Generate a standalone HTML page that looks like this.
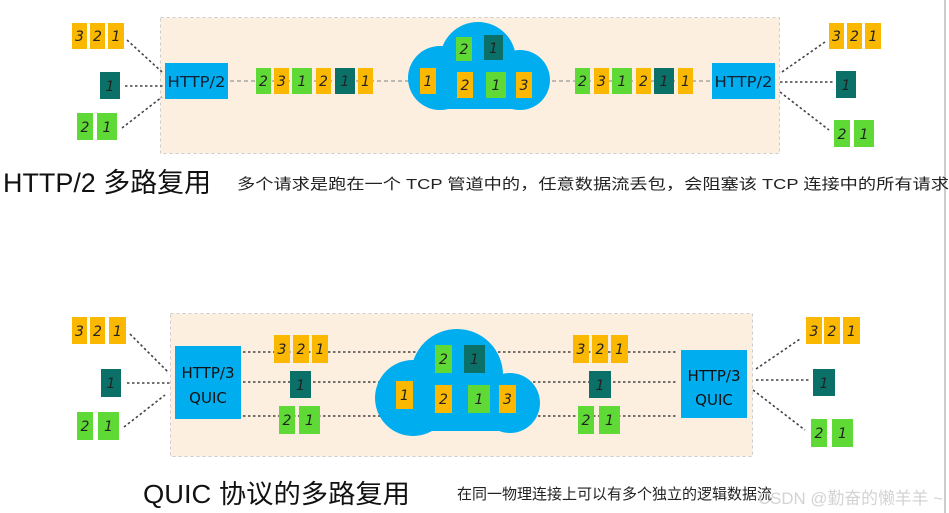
<!DOCTYPE html>
<html><head><meta charset="utf-8"><style>
html,body{margin:0;padding:0;background:#fff;width:949px;height:513px;overflow:hidden}
svg{display:block}
.n{font-family:"DejaVu Sans","Liberation Sans",sans-serif;font-size:14px;fill:#222;text-anchor:middle;font-style:italic}
</style></head><body>
<svg width="949" height="513" viewBox="0 0 949 513" xmlns="http://www.w3.org/2000/svg">
<line x1="945" y1="0" x2="945" y2="513" stroke="#bbb" stroke-width="1.5"/>
<!-- TOP -->
<rect x="160.5" y="17.5" width="619" height="136" fill="#FDEFDF" stroke="#ccc" stroke-dasharray="3,3"/>
<g stroke="#444" stroke-width="1.6" stroke-dasharray="2.5,2.5" fill="none">
<line x1="127" y1="40" x2="162" y2="72"/><line x1="125" y1="86" x2="165" y2="86"/><line x1="122" y1="128" x2="162" y2="97"/>
<line x1="782" y1="72" x2="825" y2="42"/><line x1="780" y1="82" x2="833" y2="82"/><line x1="780" y1="92" x2="829" y2="130"/>
</g>
<g stroke="#999" stroke-width="1.3" stroke-dasharray="4,3">
<line x1="230" y1="81" x2="712" y2="81"/>
</g>
<g fill="#00ADEF">
<circle cx="440" cy="78" r="32"/><circle cx="478" cy="60" r="38"/><circle cx="520" cy="80" r="30"/>
<rect x="435" y="70" width="90" height="39" rx="6"/>
</g>
<rect x="165" y="63" width="63" height="36" fill="#00ADEF"/>
<text x="196.5" y="87" font-family="DejaVu Sans,sans-serif" font-size="15" fill="#123" text-anchor="middle" textLength="58" lengthAdjust="spacingAndGlyphs">HTTP/2</text>
<rect x="712" y="63" width="63" height="36" fill="#00ADEF"/>
<text x="743.5" y="87" font-family="DejaVu Sans,sans-serif" font-size="15" fill="#123" text-anchor="middle" textLength="58" lengthAdjust="spacingAndGlyphs">HTTP/2</text>
<g>
<rect x="72" y="23" width="15" height="26" fill="#FBB800"/><text class="n" x="79.5" y="41">3</text>
<rect x="90" y="23" width="15" height="26" fill="#FBB800"/><text class="n" x="97.5" y="41">2</text>
<rect x="108" y="23" width="16" height="26" fill="#FBB800"/><text class="n" x="116" y="41">1</text>
<rect x="100" y="72" width="20" height="27" fill="#0B7068"/><text class="n" x="110" y="91">1</text>
<rect x="77" y="113" width="16" height="27" fill="#5FD935"/><text class="n" x="85" y="132">2</text>
<rect x="97" y="113" width="20" height="27" fill="#5FD935"/><text class="n" x="107" y="132">1</text>
<rect x="256" y="68" width="15" height="26" fill="#5FD935"/><text class="n" x="263.5" y="86">2</text>
<rect x="274" y="68" width="15" height="26" fill="#FBB800"/><text class="n" x="281.5" y="86">3</text>
<rect x="292" y="68" width="20" height="26" fill="#5FD935"/><text class="n" x="302" y="86">1</text>
<rect x="316" y="68" width="15" height="26" fill="#FBB800"/><text class="n" x="323.5" y="86">2</text>
<rect x="335" y="68" width="20" height="26" fill="#0B7068"/><text class="n" x="345" y="86">1</text>
<rect x="358" y="68" width="15" height="26" fill="#FBB800"/><text class="n" x="365.5" y="86">1</text>
<rect x="456" y="37" width="16" height="24" fill="#5FD935"/><text class="n" x="464" y="54">2</text>
<rect x="484" y="35" width="19" height="25" fill="#0B7068"/><text class="n" x="493.5" y="53">1</text>
<rect x="420" y="68" width="16" height="26" fill="#FBB800"/><text class="n" x="428" y="86">1</text>
<rect x="457" y="72" width="16" height="26" fill="#FBB800"/><text class="n" x="465" y="90">2</text>
<rect x="486" y="72" width="20" height="26" fill="#5FD935"/><text class="n" x="496" y="90">1</text>
<rect x="516" y="72" width="16" height="26" fill="#FBB800"/><text class="n" x="524" y="90">3</text>
<rect x="575" y="68" width="15" height="26" fill="#5FD935"/><text class="n" x="582.5" y="86">2</text>
<rect x="594" y="68" width="15" height="26" fill="#FBB800"/><text class="n" x="601.5" y="86">3</text>
<rect x="612" y="68" width="20" height="26" fill="#5FD935"/><text class="n" x="622" y="86">1</text>
<rect x="636" y="68" width="15" height="26" fill="#FBB800"/><text class="n" x="643.5" y="86">2</text>
<rect x="654" y="68" width="20" height="26" fill="#0B7068"/><text class="n" x="664" y="86">1</text>
<rect x="678" y="68" width="15" height="26" fill="#FBB800"/><text class="n" x="685.5" y="86">1</text>
<rect x="829" y="23" width="15" height="26" fill="#FBB800"/><text class="n" x="836.5" y="41">3</text>
<rect x="847" y="23" width="15" height="26" fill="#FBB800"/><text class="n" x="854.5" y="41">2</text>
<rect x="865" y="23" width="16" height="26" fill="#FBB800"/><text class="n" x="873" y="41">1</text>
<rect x="836" y="71" width="20" height="27" fill="#0B7068"/><text class="n" x="846" y="90">1</text>
<rect x="834" y="120" width="16" height="27" fill="#5FD935"/><text class="n" x="842" y="139">2</text>
<rect x="854" y="120" width="20" height="27" fill="#5FD935"/><text class="n" x="864" y="139">1</text>
</g>
<text x="3" y="192" font-family="Liberation Sans,'Noto Sans CJK SC',sans-serif" font-size="27" fill="#111" textLength="208" lengthAdjust="spacingAndGlyphs">HTTP/2 多路复用</text>
<text x="237" y="189" font-family="Liberation Sans,'Noto Sans CJK SC',sans-serif" font-size="15" fill="#222" textLength="712" lengthAdjust="spacingAndGlyphs">多个请求是跑在一个 TCP 管道中的，任意数据流丢包，会阻塞该 TCP 连接中的所有请求</text>

<!-- BOTTOM -->
<rect x="170.5" y="313.5" width="582" height="143" fill="#FDEFDF" stroke="#ccc" stroke-dasharray="3,3"/>
<g stroke="#444" stroke-width="1.6" stroke-dasharray="2.5,2.5" fill="none">
<line x1="130" y1="334" x2="168" y2="372"/><line x1="127" y1="383" x2="170" y2="383"/><line x1="124" y1="427" x2="165" y2="395"/>
<line x1="756" y1="369" x2="800" y2="339"/><line x1="756" y1="380" x2="810" y2="380"/><line x1="753" y1="390" x2="805" y2="430"/>
<line x1="243" y1="352" x2="677" y2="352"/><line x1="243" y1="382" x2="677" y2="382"/><line x1="243" y1="416" x2="677" y2="416"/>
</g>
<g fill="#00ADEF">
<circle cx="413" cy="398" r="38"/><circle cx="457" cy="375" r="46"/><circle cx="510" cy="403" r="30"/>
<rect x="400" y="380" width="120" height="51" rx="10"/>
</g>
<rect x="175" y="346" width="66" height="73" fill="#00ADEF"/>
<text x="208" y="378" font-family="DejaVu Sans,sans-serif" font-size="15" fill="#111" text-anchor="middle">HTTP/3</text>
<text x="208" y="403" font-family="DejaVu Sans,sans-serif" font-size="15" fill="#111" text-anchor="middle">QUIC</text>
<rect x="681" y="350" width="66" height="68" fill="#00ADEF"/>
<text x="714" y="381" font-family="DejaVu Sans,sans-serif" font-size="15" fill="#111" text-anchor="middle">HTTP/3</text>
<text x="714" y="405" font-family="DejaVu Sans,sans-serif" font-size="15" fill="#111" text-anchor="middle">QUIC</text>
<g>
<rect x="72" y="317" width="15" height="27" fill="#FBB800"/><text class="n" x="79.5" y="336">3</text>
<rect x="90" y="317" width="15" height="27" fill="#FBB800"/><text class="n" x="97.5" y="336">2</text>
<rect x="109" y="317" width="17" height="27" fill="#FBB800"/><text class="n" x="117.5" y="336">1</text>
<rect x="101" y="369" width="20" height="28" fill="#0B7068"/><text class="n" x="111" y="388">1</text>
<rect x="77" y="412" width="16" height="28" fill="#5FD935"/><text class="n" x="85" y="431">2</text>
<rect x="98" y="412" width="21" height="28" fill="#5FD935"/><text class="n" x="108.5" y="431">1</text>
<rect x="274" y="335" width="16" height="28" fill="#FBB800"/><text class="n" x="282" y="354">3</text>
<rect x="293" y="335" width="16" height="28" fill="#FBB800"/><text class="n" x="301" y="354">2</text>
<rect x="312" y="335" width="16" height="28" fill="#FBB800"/><text class="n" x="320" y="354">1</text>
<rect x="290" y="371" width="21" height="27" fill="#0B7068"/><text class="n" x="300.5" y="390">1</text>
<rect x="279" y="406" width="16" height="28" fill="#5FD935"/><text class="n" x="287" y="425">2</text>
<rect x="299" y="406" width="21" height="28" fill="#5FD935"/><text class="n" x="309.5" y="425">1</text>
<rect x="435" y="345" width="17" height="28" fill="#5FD935"/><text class="n" x="443.5" y="364">2</text>
<rect x="464" y="345" width="21" height="28" fill="#0B7068"/><text class="n" x="474.5" y="364">1</text>
<rect x="396" y="381" width="17" height="28" fill="#FBB800"/><text class="n" x="404.5" y="400">1</text>
<rect x="435" y="385" width="17" height="28" fill="#FBB800"/><text class="n" x="443.5" y="404">2</text>
<rect x="468" y="385" width="22" height="28" fill="#5FD935"/><text class="n" x="479" y="404">1</text>
<rect x="499" y="385" width="17" height="28" fill="#FBB800"/><text class="n" x="507.5" y="404">3</text>
<rect x="573" y="335" width="16" height="28" fill="#FBB800"/><text class="n" x="581" y="354">3</text>
<rect x="592" y="335" width="16" height="28" fill="#FBB800"/><text class="n" x="600" y="354">2</text>
<rect x="611" y="335" width="17" height="28" fill="#FBB800"/><text class="n" x="619.5" y="354">1</text>
<rect x="589" y="371" width="22" height="27" fill="#0B7068"/><text class="n" x="600" y="390">1</text>
<rect x="578" y="406" width="16" height="28" fill="#5FD935"/><text class="n" x="586" y="425">2</text>
<rect x="599" y="406" width="21" height="28" fill="#5FD935"/><text class="n" x="609.5" y="425">1</text>
<rect x="806" y="317" width="16" height="27" fill="#FBB800"/><text class="n" x="814" y="336">3</text>
<rect x="824" y="317" width="16" height="27" fill="#FBB800"/><text class="n" x="832" y="336">2</text>
<rect x="843" y="317" width="17" height="27" fill="#FBB800"/><text class="n" x="851.5" y="336">1</text>
<rect x="813" y="369" width="22" height="27" fill="#0B7068"/><text class="n" x="824" y="388">1</text>
<rect x="811" y="419" width="16" height="28" fill="#5FD935"/><text class="n" x="819" y="438">2</text>
<rect x="832" y="419" width="21" height="28" fill="#5FD935"/><text class="n" x="842.5" y="438">1</text>
</g>
<text x="143" y="503" font-family="Liberation Sans,'Noto Sans CJK SC',sans-serif" font-size="26" fill="#111" textLength="267" lengthAdjust="spacingAndGlyphs">QUIC 协议的多路复用</text>
<text x="457" y="499" font-family="Liberation Sans,'Noto Sans CJK SC',sans-serif" font-size="15" fill="#222">在同一物理连接上可以有多个独立的逻辑数据流</text>
<text x="758" y="504" font-family="Liberation Sans,'Noto Sans CJK SC',sans-serif" font-size="17" fill="#ccc" opacity="0.85" textLength="185" lengthAdjust="spacingAndGlyphs">CSDN @勤奋的懒羊羊 ~</text>
</svg>
</body></html>
